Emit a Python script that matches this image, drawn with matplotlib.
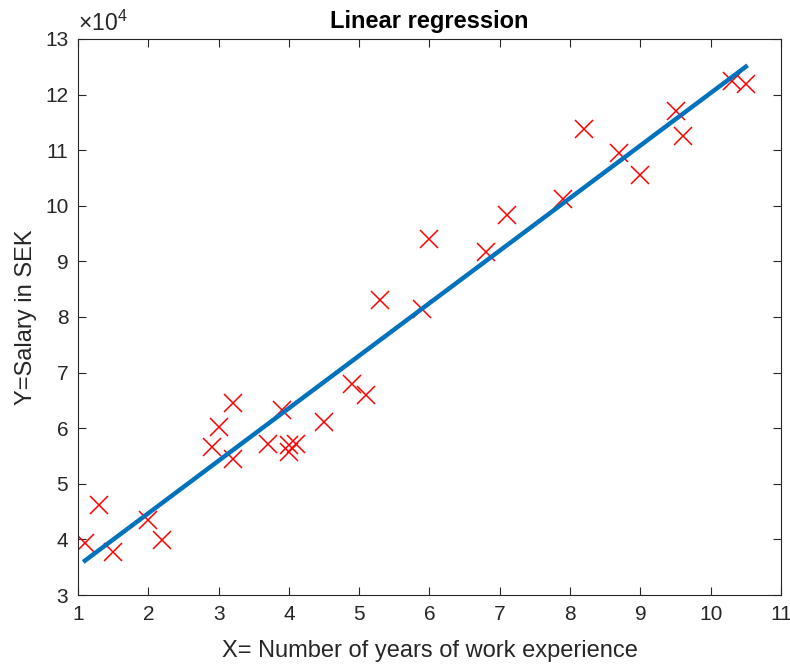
import numpy as np
import matplotlib.pyplot as plt
from matplotlib.ticker import FuncFormatter

plt.rcParams['font.family'] = ['Liberation Sans', 'DejaVu Sans']
plt.rcParams['mathtext.fontset'] = 'custom'
plt.rcParams['mathtext.rm'] = 'Liberation Sans'
plt.rcParams['mathtext.it'] = 'Liberation Sans'

# years of experience and salary (SEK)
years = [1.1, 1.3, 1.5, 2.0, 2.2, 2.9, 3.0, 3.2, 3.2, 3.7,
         3.9, 4.0, 4.0, 4.1, 4.5, 4.9, 5.1, 5.3, 5.9, 6.0,
         6.8, 7.1, 7.9, 8.2, 8.7, 9.0, 9.5, 9.6, 10.3, 10.5]
salary = [39343, 46205, 37731, 43525, 39891, 56642, 60150, 54445, 64445, 57189,
          63218, 55794, 56957, 57081, 61111, 67938, 66029, 83088, 81363, 93940,
          91738, 98273, 101302, 113812, 109431, 105582, 116969, 112635, 122391, 121872]

x = np.array(years)
y = np.array(salary)

# least squares fit
k, m = np.polyfit(x, y, 1)
fit = k * x + m

fig = plt.figure(figsize=(7.9, 6.64), dpi=100)
ax = fig.add_axes([0.0987, 0.1039, 0.8899, 0.8374])

ax.plot(x, y, 'x', color='red', markersize=13, markeredgewidth=1.1)
ax.plot(x, fit, '-', color='#0072BD', linewidth=3.2)

ax.set_xlim(1, 11)
ax.set_ylim(30000, 130000)
ax.set_xticks(np.arange(1, 12, 1))
ax.set_yticks(np.arange(30000, 130001, 10000))

# y ticks in units of 10^4, exponent shown above the axis
ax.yaxis.set_major_formatter(FuncFormatter(lambda v, p: f'{v / 1e4:g}'))
ax.text(0.0, 1.006, r'$\times10^4$', transform=ax.transAxes, fontsize=16.5,
        color='#262626', ha='left', va='bottom')

ax.tick_params(direction='in', length=6, width=0.8, top=True, right=True,
               labelsize=15, colors='#262626', pad=7)
for s in ax.spines.values():
    s.set_color('#262626')
    s.set_linewidth(0.8)

ax.set_xlabel('X= Number of years of work experience', fontsize=17, color='#262626', labelpad=12)
ax.set_ylabel('Y=Salary in SEK', fontsize=17, color='#262626', labelpad=6)
ax.set_title('Linear regression', fontsize=17, fontweight='bold', pad=8)

fig.savefig('out.png', dpi=100)
